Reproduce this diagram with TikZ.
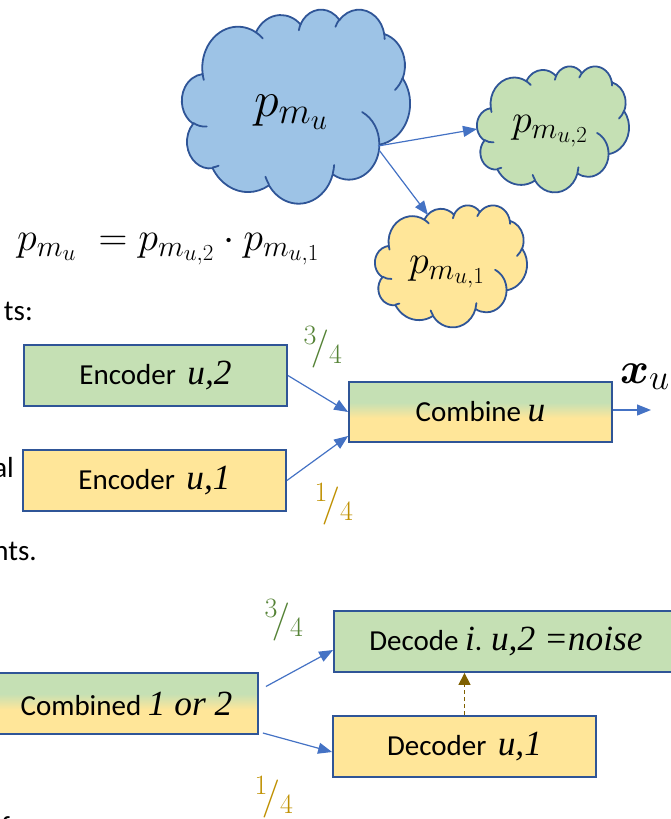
\RequirePackage{fix-cm}
\documentclass[tikz,border=0pt]{standalone}
\usepackage{amsmath}
\usepackage{bm}
\usepackage[no-math]{fontspec}
\setmainfont{Carlito}
\newfontfamily\cambit{Liberation Serif}[Scale=1.22]
\newcommand\ci[1]{{\cambit\itshape #1}}
\usetikzlibrary{arrows.meta,calc}

\DeclareMathSizes{50}{50}{37.5}{29}
\DeclareMathSizes{44}{44}{36}{28}
\DeclareMathSizes{40}{40}{30}{23}
\DeclareMathSizes{38}{38}{28}{21}

\definecolor{edgeblue}{HTML}{2F5597}
\definecolor{cloudblue}{HTML}{9DC3E6}
\definecolor{boxgreen}{HTML}{C5E0B4}
\definecolor{boxyellow}{HTML}{FFE699}
\definecolor{flowblue}{HTML}{4472C4}
\definecolor{fracgreen}{HTML}{548235}
\definecolor{fracgold}{HTML}{BF9000}
\definecolor{hintbrown}{HTML}{7F6000}

\pgfdeclareverticalshading{greenyellow}{100bp}{color(0bp)=(boxyellow); color(45bp)=(boxyellow); color(58bp)=(boxgreen); color(100bp)=(boxgreen)}

% elliptical arc given as (wR, hR, start, sweep) with visual angles
\newcommand\oarc[4]{arc[x radius=#1, y radius=#2, start angle={atan2(#1*sin(#3),#2*cos(#3))}, delta angle={mod(atan2(#1*sin(#3+#4),#2*cos(#3+#4))-atan2(#1*sin(#3),#2*cos(#3))+720,360)}]}

% cloud outline in a 432 x 432 box
\newcommand\cloudoutline{(39.00,143.70)
 \oarc{67.53}{91.90}{-190.487}{123.781}
 \oarc{53.33}{72.67}{-144.102}{89.945}
 \oarc{43.65}{59.45}{-145.808}{99.723}
 \oarc{48.57}{65.95}{-130.986}{117.242}
 \oarc{53.33}{72.73}{-78.709}{109.027}
 \oarc{67.75}{92.20}{-46.267}{130.269}
 \oarc{57.85}{78.67}{0.625}{114.033}
 \oarc{67.52}{92.15}{22.452}{115.173}
 \oarc{77.20}{105.43}{66.243}{75.711}
 \oarc{43.60}{59.18}{-274.942}{146.736}
 \oarc{43.45}{59.45}{-246.829}{152.519} -- cycle}

% inner folds of the cloud
\newcommand\cloudfolds{
 (46.93,261.77) \oarc{43.45}{59.45}{86.742}{26.430}
 (69.28,348.99) \oarc{43.60}{59.18}{73.610}{11.447}
 (164.78,390.90) \oarc{67.52}{92.15}{137.624}{14.081}
 (288.27,347.51) \oarc{67.52}{92.15}{6.453}{15.998}
 (341.29,229.54) \oarc{57.85}{78.67}{-70.292}{70.917}
 (417.98,153.54) \oarc{53.33}{72.73}{30.318}{27.752}
 (383.24,54.26) \oarc{48.57}{65.95}{-13.744}{14.859}
 (290.78,39.52) \oarc{48.57}{65.95}{-149.181}{18.195}
 (221.41,47.20) \oarc{43.65}{59.45}{-163.494}{17.686}
 (140.00,51.92) \oarc{67.53}{91.90}{-66.707}{12.319}
 (41.27,157.89) \oarc{67.53}{91.90}{157.654}{11.858}}

% #1 node, #2 width, #3 height, #4 fill colour
\newcommand\drawcloud[4]{%
 \pgfmathsetmacro\cloudsx{#2/432}%
 \pgfmathsetmacro\cloudsy{#3/432}%
 \begin{scope}[shift={(#1.north west)}, x=\cloudsx pt, y=-\cloudsy pt]
  \filldraw[cloudline, fill=#4] \cloudoutline;
  \draw[cloudline] \cloudfolds;
 \end{scope}}

\tikzset{
 cloudline/.style={draw=edgeblue, line width=1.8pt, line join=round, line cap=round},
 cloudbox/.style={rectangle, inner sep=0pt, outer sep=0pt},
 blk/.style={draw=edgeblue, line width=1.8pt, minimum height=61pt, minimum width=263pt,
   inner sep=0pt, text=black, font=\fontsize{29}{34}\selectfont},
 greenblk/.style={blk, fill=boxgreen},
 yellowblk/.style={blk, fill=boxyellow},
 mixblk/.style={blk, shade, shading=greenyellow},
 flow/.style={draw=flowblue, line width=1.2pt, -{Triangle[length=14pt,width=11pt]}},
 hint/.style={draw=hintbrown, line width=1.3pt, dash pattern=on 4pt off 3pt,
   -{Triangle[length=12pt,width=12pt]}},
 frac/.style={inner sep=0pt, font=\fontsize{38}{38}\selectfont},
 bigmath/.style={inner sep=0pt, font=\fontsize{50}{50}\selectfont},
 midmath/.style={inner sep=0pt, font=\fontsize{40}{40}\selectfont},
 cut/.style={inner sep=0pt, font=\fontsize{29}{34}\selectfont},
}

\begin{document}
\begin{tikzpicture}[x=1pt,y=-1pt]
\useasboundingbox (0,0) rectangle (671,819);

% clouds
\node[cloudbox, minimum width=228pt, minimum height=194pt] (pu) at (296,106) {};
\drawcloud{pu}{228}{194}{cloudblue}
\node[cloudbox, minimum width=152pt, minimum height=126pt] (pg) at (553,129) {};
\drawcloud{pg}{152}{126}{boxgreen}
\node[cloudbox, minimum width=152pt, minimum height=122pt] (py) at (451,266) {};
\drawcloud{py}{152}{122}{boxyellow}

\node[bigmath] (pu-lab) at (291,112) {$p_{m_u}$};
\node[midmath] (pg-lab) at (550,131) {$p_{m_{u,2}}$};
\node[midmath] (py-lab) at (447,272) {$p_{m_{u,1}}$};

\coordinate (pu-out1) at (378,146);
\coordinate (pu-out2) at (379,150);
\coordinate (py-in) at (428,215);
\draw[flow] (pu-out1) -- (pg.west);
\draw[flow] (pu-out2) -- (py-in);

% factorisation
\node[midmath, anchor=base west] (eq) at (17,250) {$p_{m_u}\;=p_{m_{u,2}}\cdot p_{m_{u,1}}$};

% text cut at the left edge
\node[cut, anchor=base east] (cut1) at (33,320) {ts:};
\node[cut, anchor=base east] (cut2) at (14,477) {al};
\node[cut, anchor=base east] (cut3) at (37,560) {nts.};
\node[cut, anchor=base west] (cut4) at (1,836) {f};

% encoding
\node[greenblk] (enc2) at (155.5,375.5) {Encoder\, \ci{u,2}};
\node[yellowblk] (enc1) at (154.5,480.5) {Encoder\, \ci{u,1}};
\node[mixblk, minimum height=60pt] (comb) at (480.5,412) {Combine \ci{u}};
\coordinate (xout) at (651,410);
\node[inner sep=0pt, anchor=base west, font=\fontsize{44}{44}\selectfont] (xlab) at (620,383) {$\bm{x}_u$};

\draw[flow] (enc2.east) -- (comb.west);
\draw[flow] (enc1.east) -- ([yshift=-24pt]comb.west);
\draw[flow] ([yshift=2pt]comb.east) -- (xout);

\node[frac, text=fracgreen] (w2a) at (323,347) {${}^{3}\!/_{4}$};
\node[frac, text=fracgold] (w1a) at (334,504) {${}^{1}\!/_{4}$};

% decoding
\node[mixblk] (combd) at (126.5,703.5) {Combined \ci{1 or 2}};
\node[greenblk, minimum width=344pt] (dec2) at (506,641.5) {Decode \ci{i}. \ci{u,2 =noise}};
\node[yellowblk] (dec1) at (464.5,746.5) {Decoder\, \ci{u,1}};

\draw[flow] ([xshift=7pt,yshift=17pt]combd.east) -- ([yshift=-8.5pt]dec2.west);
\draw[flow] ([xshift=4pt,yshift=-29.5pt]combd.east) -- ([yshift=-5.5pt]dec1.west);
\draw[hint] (dec1.north) -- (dec1.north |- dec2.south);

\node[frac, text=fracgreen] (w2b) at (284,620) {${}^{3}\!/_{4}$};
\node[frac, text=fracgold] (w1b) at (274,797) {${}^{1}\!/_{4}$};
\end{tikzpicture}
\end{document}
